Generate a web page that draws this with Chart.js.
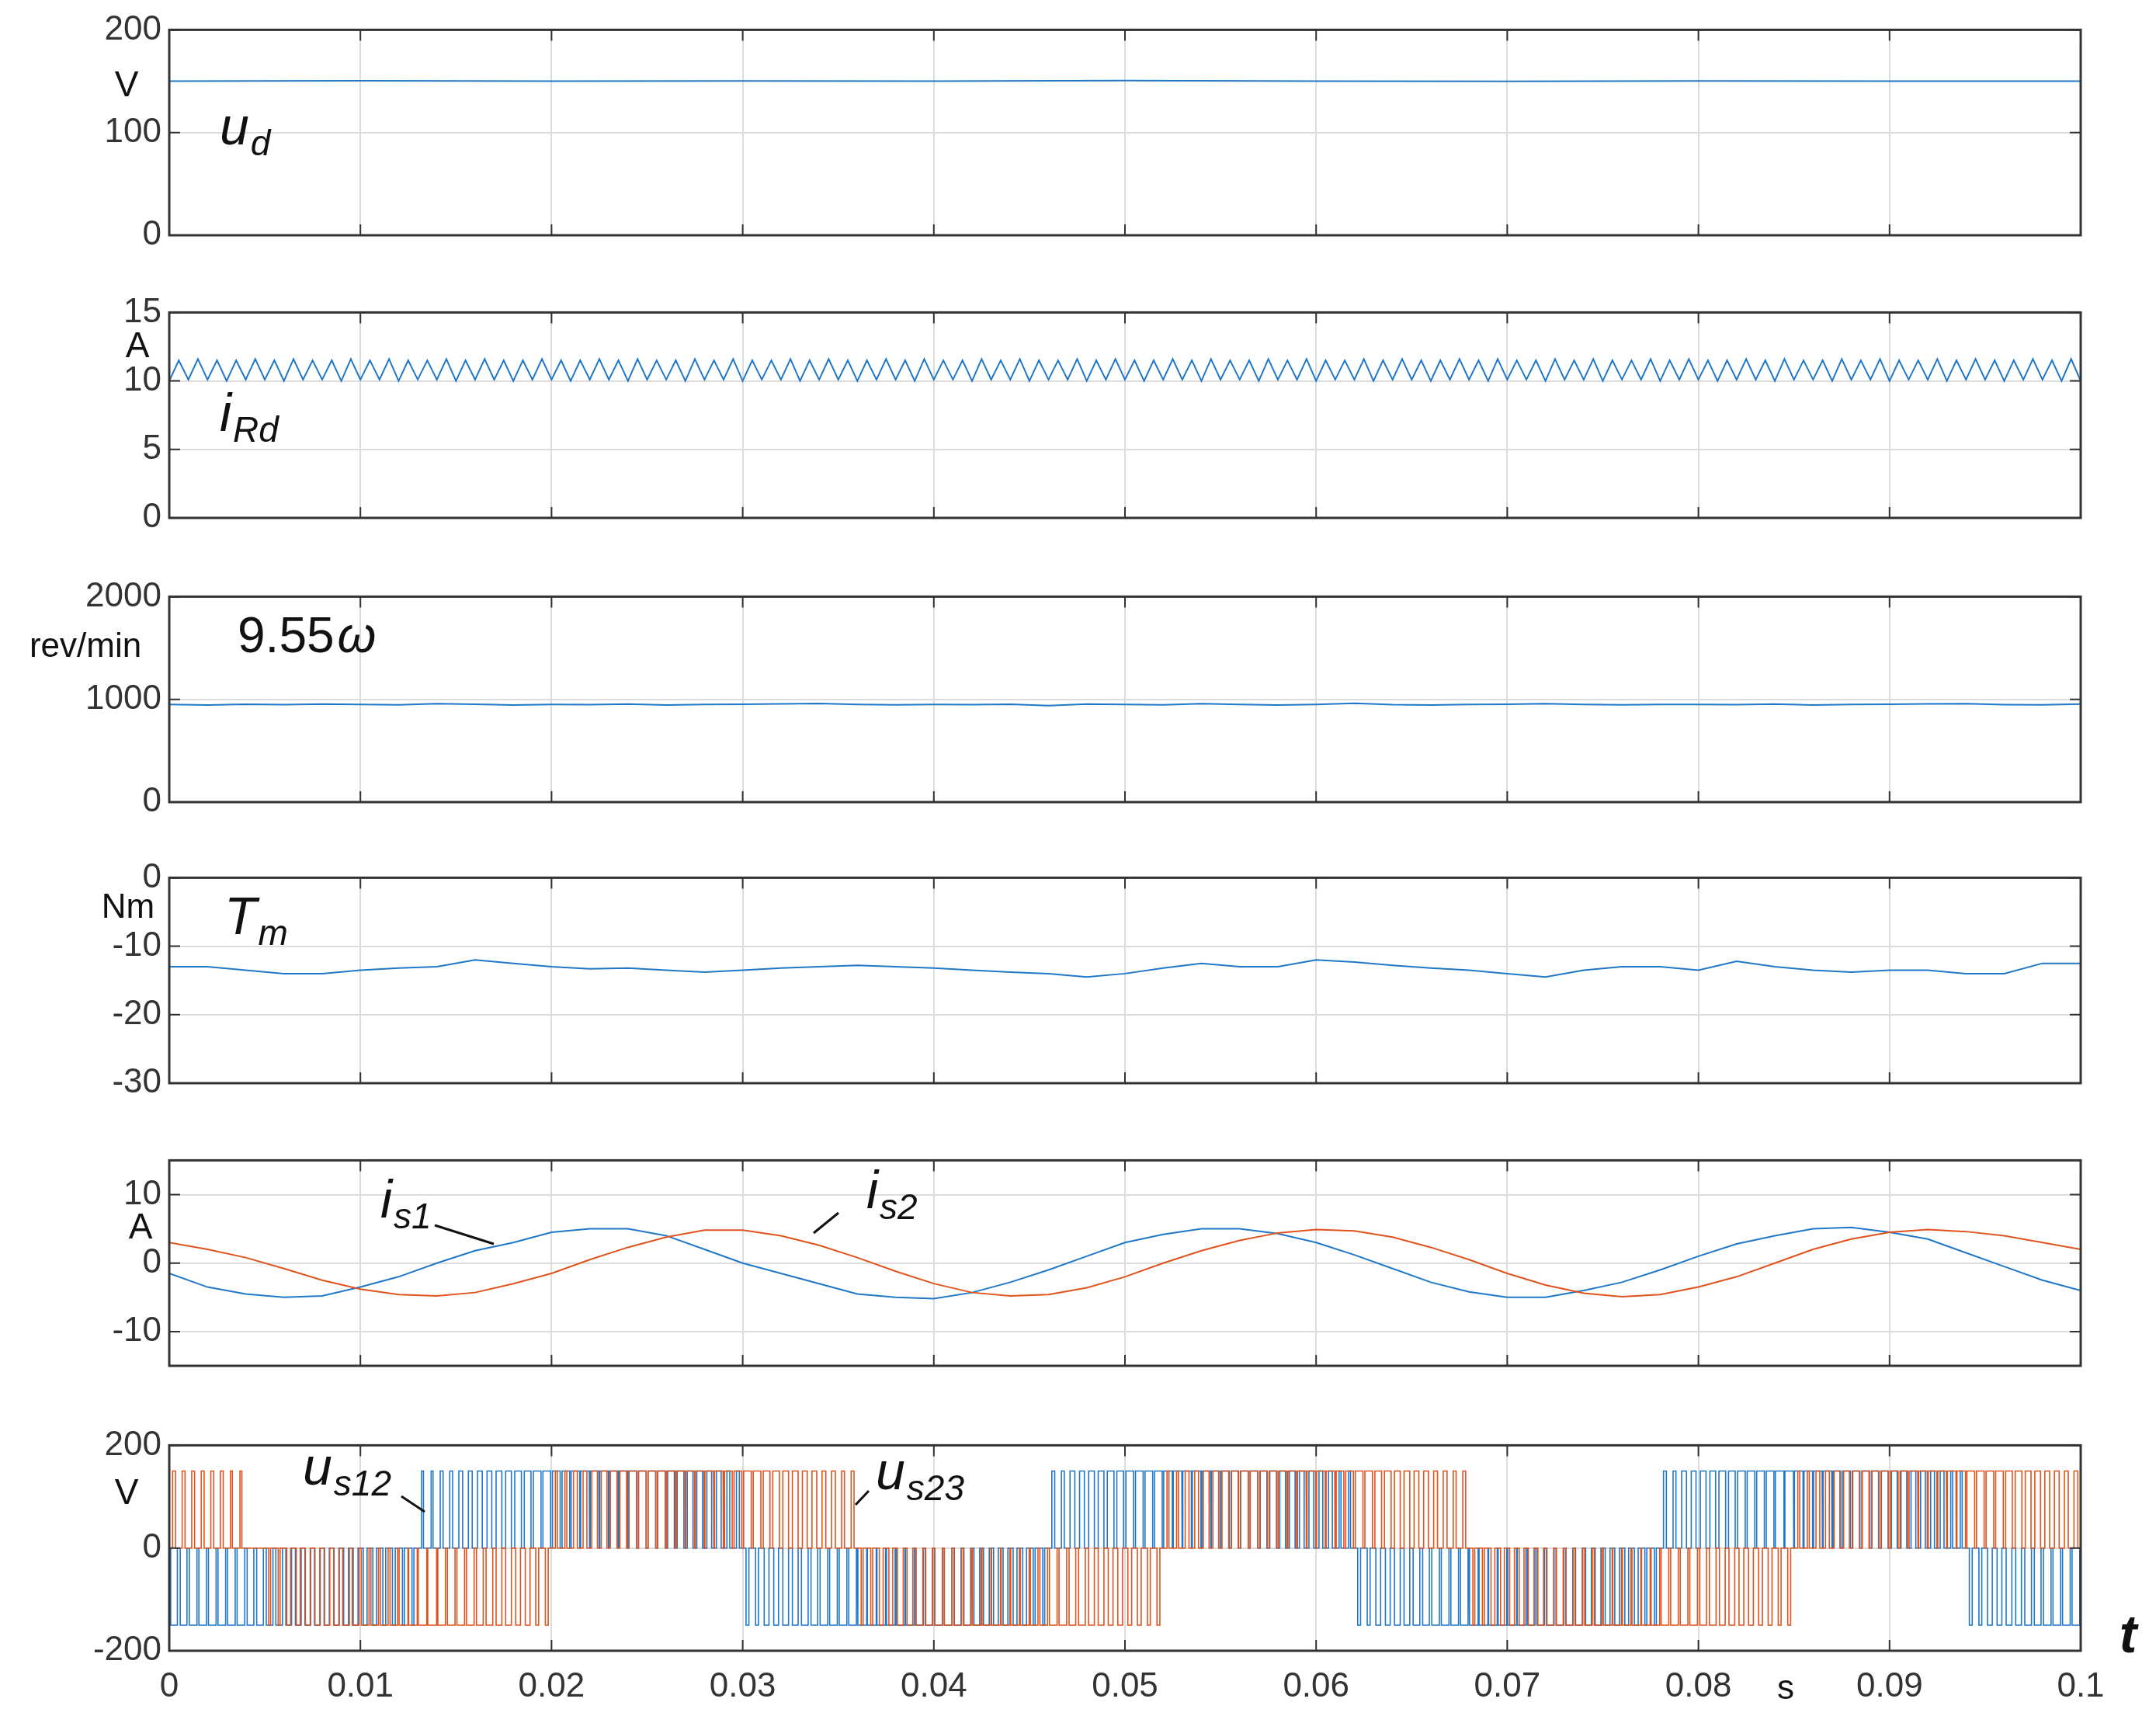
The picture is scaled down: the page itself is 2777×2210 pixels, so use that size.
<!DOCTYPE html>
<html><head><meta charset="utf-8">
<script src="https://cdn.jsdelivr.net/npm/chart.js@4/dist/chart.umd.min.js"></script>
<style>body{margin:0;background:#fff;width:2777px;height:2210px;position:relative;overflow:hidden}canvas{position:absolute;left:0}</style>
</head><body>
<script>
const xTicks=[0,0.01,0.02,0.03,0.04,0.05,0.06,0.07,0.08,0.09,0.1];
const udT=[0,0.01,0.02,0.03,0.04,0.05,0.06,0.07,0.08,0.09,0.1];
const udV=[150,150.5,150,150.3,150,150.6,150,149.8,150.2,150,150];
const iRdPeaks=[11.5,11.6,11.5,11.5,11.6,11.5,11.6,11.5,11.5,11.6,11.5,11.6,11.5,11.5,11.6,11.5,11.6,11.5,11.5,11.6,11.5,11.5,11.6,11.5,11.6,11.5,11.5,11.6,11.5,11.6,11.5,11.5,11.6,11.5,11.6,11.5,11.5,11.6,11.5,11.6,11.5,11.5,11.6,11.5,11.6,11.5,11.5,11.6,11.5,11.6,11.5,11.5,11.6,11.5,11.6,11.5,11.5,11.6,11.5,11.6,11.5,11.5,11.6,11.5,11.6,11.5,11.5,11.6,11.5,11.6,11.5,11.5,11.6,11.5,11.6,11.5,11.5,11.6,11.5,11.6,11.5,11.5,11.6,11.5,11.6,11.5,11.5,11.6,11.5,11.6,11.5,11.5,11.6,11.5,11.6,11.5,11.5,11.6,11.5,11.6];
const iRdTroughs=[10.0,10.1,10.1,10.0,10.1,10.1,10.0,10.1,10.1,10.0,10.1,10.1,10.0,10.1,10.1,10.0,10.1,10.1,10.0,10.1,10.1,10.0,10.1,10.1,10.0,10.1,10.1,10.0,10.1,10.1,10.0,10.1,10.1,10.0,10.1,10.1,10.0,10.1,10.1,10.0,10.1,10.1,10.0,10.1,10.1,10.0,10.1,10.1,10.0,10.1,10.1,10.0,10.1,10.1,10.0,10.1,10.1,10.0,10.1,10.1,10.0,10.1,10.1,10.0,10.1,10.1,10.0,10.1,10.1,10.0,10.1,10.1,10.0,10.1,10.1,10.0,10.1,10.1,10.0,10.1,10.1,10.0,10.1,10.1,10.0,10.1,10.1,10.0,10.1,10.1,10.0,10.1,10.1,10.0,10.1,10.1,10.0,10.1,10.1,10.0,10.0];
const speedV=[950,945,952,948,955,950,946,958,952,945,950,948,954,944,950,952,956,960,950,946,950,948,952,940,955,950,946,958,950,945,950,962,948,944,950,952,958,950,946,950,950,948,955,944,950,952,956,958,948,946,955];
const tmV=[-13,-13,-13.5,-14,-14,-13.5,-13.2,-13,-12,-12.5,-13,-13.3,-13.2,-13.5,-13.8,-13.5,-13.2,-13,-12.8,-13,-13.2,-13.5,-13.8,-14,-14.5,-14,-13.2,-12.5,-13,-13,-12,-12.3,-12.8,-13.2,-13.5,-14,-14.5,-13.5,-13,-13,-13.5,-12.2,-13,-13.5,-13.8,-13.5,-13.5,-14,-14,-12.5,-12.5];
const is1V=[-1.5,-3.5,-4.5,-5,-4.8,-3.5,-2,0,1.8,3,4.5,5,5,4,2,0,-1.5,-3,-4.5,-5,-5.2,-4.3,-2.8,-1,1,3,4.2,5,5,4.3,3,1.2,-0.8,-2.8,-4.2,-5,-5,-4,-2.8,-1,1,2.8,4,5,5.2,4.5,3.5,1.5,-0.5,-2.5,-4];
const is2V=[3,2,0.8,-0.8,-2.5,-3.8,-4.6,-4.8,-4.3,-3,-1.5,0.5,2.3,3.8,4.8,4.8,4,2.6,0.8,-1.2,-3,-4.3,-4.8,-4.6,-3.6,-2,0,1.8,3.3,4.4,4.9,4.7,3.8,2.3,0.5,-1.5,-3.2,-4.4,-4.9,-4.6,-3.5,-2,0,2,3.5,4.5,4.9,4.6,4,3,2];
const us12Duty=[-0.7,-0.8,-0.8,-0.8,-0.7,-0.7,-0.6,-0.6,-0.5,-0.5,-0.4,-0.3,-0.2,
0.2,0.3,0.4,0.5,0.6,0.7,0.8,0.8,0.9,0.9,0.9,0.8,0.8,0.7,0.6,0.5,0.3,
-0.3,-0.5,-0.6,-0.7,-0.8,-0.8,-0.9,-0.9,-0.9,-0.8,-0.8,-0.7,-0.6,-0.5,-0.4,-0.2,
0.3,0.5,0.6,0.7,0.8,0.8,0.9,0.9,0.9,0.8,0.8,0.7,0.6,0.5,0.4,0.2,
-0.3,-0.5,-0.6,-0.7,-0.8,-0.8,-0.9,-0.9,-0.9,-0.8,-0.8,-0.7,-0.6,-0.5,-0.4,-0.2,
0.3,0.5,0.6,0.7,0.8,0.8,0.9,0.9,0.9,0.8,0.8,0.7,0.6,0.5,0.4,0.2,
-0.3,-0.5,-0.6,-0.7,-0.8,-0.8];
const us23Duty=[0.3,0.3,0.3,0.2,0,
-0.2,-0.4,-0.5,-0.6,-0.7,-0.8,-0.8,-0.9,-0.9,-0.8,-0.8,-0.7,-0.6,-0.5,-0.3,
0.2,0.4,0.6,0.7,0.8,0.8,0.9,0.9,0.9,0.8,0.8,0.7,0.6,0.5,0.4,0.3,
-0.2,-0.4,-0.6,-0.7,-0.8,-0.8,-0.9,-0.9,-0.9,-0.8,-0.8,-0.7,-0.6,-0.5,-0.4,-0.3,
0.2,0.4,0.6,0.7,0.8,0.8,0.9,0.9,0.9,0.8,0.8,0.7,0.6,0.5,0.4,0.3,
-0.2,-0.4,-0.5,-0.6,-0.7,-0.8,-0.8,-0.9,-0.9,-0.9,-0.8,-0.8,-0.7,-0.6,-0.5,-0.4,-0.3,
0.2,0.4,0.6,0.7,0.8,0.8,0.9,0.9,0.9,0.8,0.8,0.7,0.6,0.5,0.4];
const pwmLevel=150;

const BLUE='#1f77c8', ORANGE='#e0531c';
const W=2777, L=218, R=2680;
function grid(vals,dt){return vals.map((v,i)=>({x:i*dt,y:v}));}
function irdPts(){const p=[];for(let i=0;i<iRdTroughs.length;i++){p.push({x:i*0.001,y:iRdTroughs[i]});if(i<iRdPeaks.length)p.push({x:i*0.001+0.0005,y:iRdPeaks[i]});}return p;}
function pwmPts(d){const p=[];const T=0.0005;d.forEach((v,k)=>{for(let j=0;j<2;j++){const t0=k*0.001+j*T,a=Math.abs(v),s=Math.sign(v);p.push({x:t0,y:0});if(a>0){const t1=t0+T*(1-a)/2,t2=t0+T*(1+a)/2;p.push({x:t1,y:0},{x:t1,y:s*pwmLevel},{x:t2,y:s*pwmLevel},{x:t2,y:0});}}});p.push({x:0.1,y:0});return p;}

const panels=[
 {top:32,min:0,max:200,ticks:[0,100,200],ds:[{d:udT.map((t,i)=>({x:t,y:udV[i]})),c:BLUE}]},
 {top:396,min:0,max:15,ticks:[0,5,10,15],ds:[{d:irdPts(),c:BLUE}]},
 {top:762,min:0,max:2000,ticks:[0,1000,2000],ds:[{d:grid(speedV,0.002),c:BLUE}]},
 {top:1124,min:-30,max:0,ticks:[-30,-20,-10,0],ds:[{d:grid(tmV,0.002),c:BLUE}]},
 {top:1488,min:-15,max:15,ticks:[-10,0,10],ds:[{d:grid(is2V,0.002),c:ORANGE},{d:grid(is1V,0.002),c:BLUE}]},
 {top:1855,min:-200,max:200,ticks:[-200,0,200],ds:[{d:pwmPts(us23Duty),c:ORANGE,w:1.6},{d:pwmPts(us12Duty),c:BLUE,w:1.6}],last:true}
];
const H=271;
const frame={id:'frame',afterDraw(ch){const a=ch.chartArea,c=ch.ctx;c.save();c.strokeStyle='#333';c.lineWidth=3;c.strokeRect(a.left,a.top,a.right-a.left,a.bottom-a.top);
 c.lineWidth=2;const xs=ch.scales.x;xTicks.forEach(t=>{const px=xs.getPixelForValue(t);c.beginPath();c.moveTo(px,a.bottom);c.lineTo(px,a.bottom-14);c.moveTo(px,a.top);c.lineTo(px,a.top+14);c.stroke();});
 const ys=ch.scales.y;ch.options._ticks.forEach(t=>{const py=ys.getPixelForValue(t);c.beginPath();c.moveTo(a.left,py);c.lineTo(a.left+14,py);c.moveTo(a.right,py);c.lineTo(a.right-14,py);c.stroke();});c.restore();}};
panels.forEach(p=>{
 const pt=30,pb=p.last?90:40;
 const cv=document.createElement('canvas');cv.width=W;cv.height=H+pt+pb;cv.style.top=(p.top-pt)+'px';cv.style.width=W+'px';cv.style.height=(H+pt+pb)+'px';document.body.appendChild(cv);
 new Chart(cv,{type:'line',data:{datasets:p.ds.map(s=>({data:s.d,borderColor:s.c,borderWidth:s.w||2,pointRadius:0,tension:0,fill:false}))},
 options:{_ticks:p.ticks,responsive:false,animation:false,devicePixelRatio:1,parsing:false,
  layout:{padding:{left:0,right:W-R,top:pt,bottom:0}},
  plugins:{legend:{display:false},tooltip:{enabled:false}},
  scales:{
   x:{type:'linear',min:0,max:0.1,afterBuildTicks:s=>{s.ticks=xTicks.map(v=>({value:v}));},
     grid:{color:'#dcdcdc',lineWidth:2,drawTicks:false},border:{display:false},
     ticks:{display:!!p.last,padding:20,color:'#333',font:{family:'Liberation Sans',size:44},maxRotation:0,callback:v=>v===0?'0':String(+v.toFixed(2))},
     afterFit:s=>{s.height=pb;}},
   y:{min:p.min,max:p.max,afterBuildTicks:s=>{s.ticks=p.ticks.map(v=>({value:v}));},
     grid:{color:'#dcdcdc',lineWidth:2,drawTicks:false},border:{display:false},
     ticks:{padding:10,color:'#333',font:{family:'Liberation Sans',size:44},callback:v=>String(v)},
     afterFit:s=>{s.width=L;}}
  }},plugins:[frame]});
});
const ov=document.createElement('canvas');ov.width=W;ov.height=2210;ov.style.top='0px';ov.style.zIndex=5;ov.style.pointerEvents='none';document.body.appendChild(ov);
const c=ov.getContext('2d');c.fillStyle='#111';c.textBaseline='alphabetic';
function txt(s,x,y,size,style,align){c.font=(style||'')+' '+size+'px "Liberation Sans"';c.textAlign=align||'left';c.fillText(s,x,y);return c.measureText(s).width;}
function sym(main,sub,x,y){const w=txt(main,x,y,68,'italic');txt(sub,x+w+2,y+14,46,'italic');}
function lead(x1,y1,x2,y2){c.save();c.strokeStyle='#111';c.lineWidth=3;c.beginPath();c.moveTo(x1,y1);c.lineTo(x2,y2);c.stroke();c.restore();}
txt('V',163,124,46,'','center');
sym('u','d',283,186);
txt('A',177,460,46,'','center');
sym('i','Rd',283,555);
txt('rev/min',110,846,44,'','center');
{const w=txt('9.55',306,840,64,'');txt('ω',306+w+4,840,64,'italic');}
txt('Nm',165,1182,44,'','center');
sym('T','m',289,1203);
txt('A',181,1595,46,'','center');
sym('i','s1',490,1568);lead(560,1578,636,1602);
sym('i','s2',1116,1556);lead(1080,1562,1048,1588);
txt('V',163,1937,46,'','center');
sym('u','s12',390,1912);lead(517,1927,547,1947);
sym('u','s23',1128,1918);lead(1119,1920,1102,1938);
txt('s',2300,2188,44,'','center');
txt('t',2741,2128,68,'italic bold','center');
</script>
</body></html>
